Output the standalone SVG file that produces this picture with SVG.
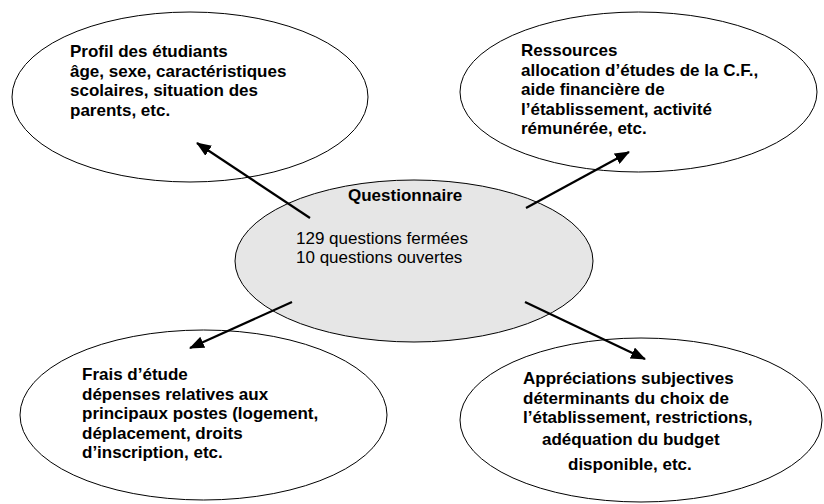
<svg xmlns="http://www.w3.org/2000/svg" width="824" height="504" viewBox="0 0 824 504">
<style>
.node{fill:#fff;stroke:#000;stroke-width:1}
.center{fill:#e6e6e6;stroke:#000;stroke-width:1}
.b{font-family:"Liberation Sans",Arial,sans-serif;font-size:17px;font-weight:bold;fill:#000}
.r{font-family:"Liberation Sans",Arial,sans-serif;font-size:17px;fill:#000}
.conn{stroke:#000;stroke-width:2.2;fill:none;marker-end:url(#ah)}
</style>
<defs>
<marker id="ah" markerUnits="userSpaceOnUse" markerWidth="15" markerHeight="12" refX="14" refY="6" orient="auto">
<path d="M0,0 L15,6 L0,12 z" fill="#000"/>
</marker>
</defs>
<rect width="824" height="504" fill="#fff"/>
<g id="profil">
<ellipse class="node" cx="190" cy="97" rx="178" ry="85"/>
<text class="b" x="70" y="57">Profil des étudiants</text>
<text class="b" x="70" y="76.5">âge, sexe, caractéristiques</text>
<text class="b" x="70" y="96">scolaires, situation des</text>
<text class="b" x="70" y="115.5">parents, etc.</text>
</g>
<g id="ressources">
<ellipse class="node" cx="638.5" cy="92" rx="178.5" ry="80"/>
<text class="b" x="521" y="56">Ressources</text>
<text class="b" x="521" y="75.5">allocation d’études de la C.F.,</text>
<text class="b" x="521" y="95">aide financière de</text>
<text class="b" x="521" y="114.5">l’établissement, activité</text>
<text class="b" x="521" y="134">rémunérée, etc.</text>
</g>
<g id="questionnaire">
<ellipse class="center" cx="414" cy="261" rx="179" ry="81"/>
<text class="b" x="348" y="201">Questionnaire</text>
<text class="r" x="296" y="244">129 questions fermées</text>
<text class="r" x="296" y="263">10 questions ouvertes</text>
</g>
<g id="frais">
<ellipse class="node" cx="203.5" cy="415" rx="183.5" ry="85"/>
<text class="b" x="82" y="380">Frais d’étude</text>
<text class="b" x="82" y="399.5">dépenses relatives aux</text>
<text class="b" x="82" y="419">principaux postes (logement,</text>
<text class="b" x="82" y="438.5">déplacement, droits</text>
<text class="b" x="82" y="458">d’inscription, etc.</text>
</g>
<g id="appreciations">
<ellipse class="node" cx="641" cy="420" rx="181" ry="82"/>
<text class="b" x="523" y="384">Appréciations subjectives</text>
<text class="b" x="523" y="403.5">déterminants du choix de</text>
<text class="b" x="523" y="423">l’établissement, restrictions,</text>
<text class="b" x="542" y="445">adéquation du budget</text>
<text class="b" x="568" y="470">disponible, etc.</text>
</g>
<g id="connectors">
<line class="conn" x1="310" y1="218" x2="197" y2="143"/>
<line class="conn" x1="526" y1="208" x2="629" y2="152"/>
<line class="conn" x1="292" y1="302" x2="190" y2="348"/>
<line class="conn" x1="525" y1="302" x2="645" y2="359"/>
</g>
</svg>
